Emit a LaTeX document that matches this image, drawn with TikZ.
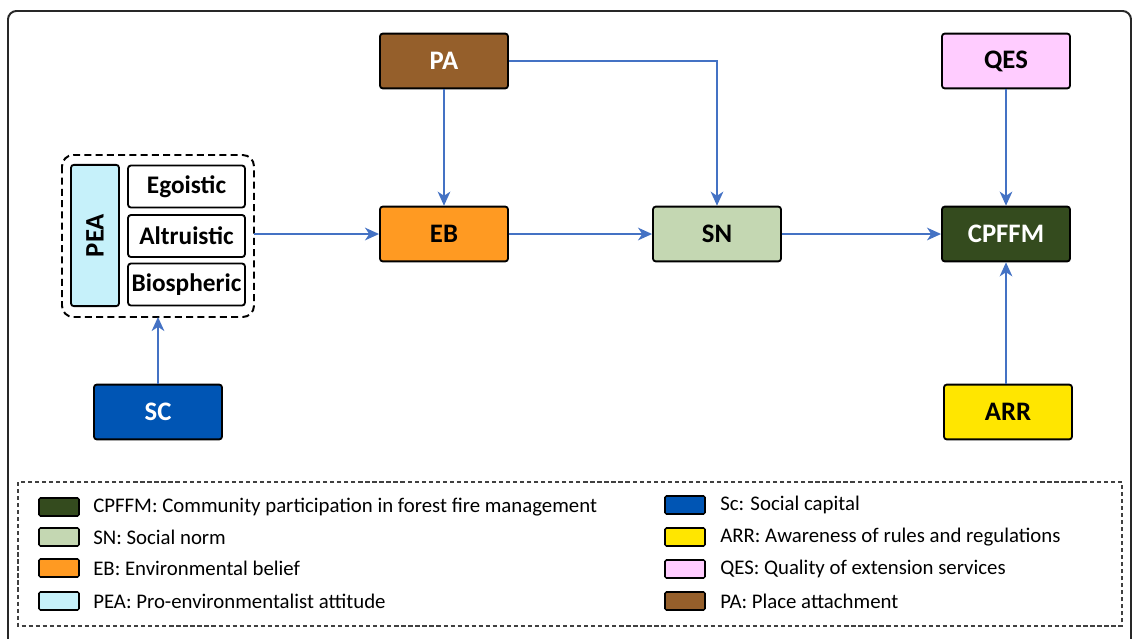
\documentclass[tikz,border=0pt]{standalone}
\usepackage{fontspec}
\setmainfont{Carlito}
\usetikzlibrary{arrows.meta}

\definecolor{paBrown}{RGB}{149,95,43}
\definecolor{ebOrange}{RGB}{255,154,34}
\definecolor{snGreen}{RGB}{196,215,178}
\definecolor{cpDark}{RGB}{52,75,30}
\definecolor{qesPink}{RGB}{255,204,255}
\definecolor{arrYellow}{RGB}{255,230,0}
\definecolor{scBlue}{RGB}{0,85,180}
\definecolor{peaCyan}{RGB}{198,241,250}
\definecolor{linkBlue}{RGB}{68,114,196}
\definecolor{frameGray}{RGB}{40,40,40}

\begin{document}
\begin{tikzpicture}[x=0.025cm,y=-0.025cm,
  >={Stealth[length=10pt,width=9pt,inset=3pt]},
  box/.style={draw=black,line width=1.3pt,rounded corners=2pt,
    minimum width=3.2cm,minimum height=1.37cm,
    font=\bfseries\fontsize{19}{21}\selectfont},
  sub/.style={draw=black,line width=1.3pt,rounded corners=2pt,
    minimum width=2.92cm,minimum height=1.05cm,inner sep=0pt,
    font=\bfseries\fontsize{18}{20}\selectfont},
  link/.style={->,draw=linkBlue,line width=1.3pt},
  swatch/.style={draw=black,line width=1.1pt,rounded corners=1pt,
    minimum width=1cm,minimum height=0.45cm,inner sep=0pt},
  key/.style={anchor=west,inner sep=0pt,font=\fontsize{14.8}{17}\selectfont}]
  \useasboundingbox (0,0) rectangle (1134,639);
  \clip (0,0) rectangle (1134,639);

  % outer frame
  \draw[frameGray,line width=1.4pt,rounded corners=6pt] (8,11) rectangle (1131,700);

  % main boxes
  \node[box,fill=paBrown,text=white] (pa) at (444,61) {PA};
  \node[box,fill=qesPink] (qes) at (1006,61) {QES};
  \node[box,fill=ebOrange] (eb) at (444,234) {EB};
  \node[box,fill=snGreen] (sn) at (717,234) {SN};
  \node[box,fill=cpDark,text=white] (cpffm) at (1006,234) {CPFFM};
  \node[box,fill=scBlue,text=white] (sc) at (158,412) {SC};
  \node[box,fill=arrYellow] (arr) at (1008,412) {ARR};

  % PEA group
  \node[draw=black,line width=1.3pt,rounded corners=2pt,fill=peaCyan,
    minimum width=1.2cm,minimum height=3.53cm,inner sep=0pt] (pea) at (95,235.5) {};
  \node[rotate=90,font=\bfseries\fontsize{19}{21}\selectfont] at (pea) {PEA};
  \node[sub] (ego) at (186.5,186.5) {Egoistic};
  \node[sub] (alt) at (186.5,236) {Altruistic};
  \node[sub] (bio) at (186.5,284.5) {Biospheric};
  \draw[black,line width=1.4pt,dashed,dash pattern=on 5pt off 3pt,rounded corners=8pt]
    (62,155) rectangle (254,317);
  \coordinate (grpE) at (254,234);
  \coordinate (grpS) at (158,317);

  % connectors
  \draw[link] (pa) -- (eb);
  \draw[link] (pa.east) -| (sn.north);
  \draw[link] (grpE) -- (eb.west);
  \draw[link] (eb) -- (sn);
  \draw[link] (sn) -- (cpffm);
  \draw[link] (qes) -- (cpffm);
  \draw[link] (arr.north -| cpffm.south) -- (cpffm.south);
  \draw[link] (sc.north) -- (grpS);

  % legend
  \draw[gray!50!black,line width=0.9pt,dashed,dash pattern=on 3pt off 2pt]
    (18,482) rectangle (1122,626);
  \node[swatch,fill=cpDark] (k1) at (59,507) {};
  \node[swatch,fill=snGreen] (k2) at (59,537) {};
  \node[swatch,fill=ebOrange] (k3) at (59,568) {};
  \node[swatch,fill=peaCyan] (k4) at (59,601) {};
  \node[key] at (93,507) {CPFFM:\ Community participation in forest fire management};
  \node[key] at (93,537) {SN: Social norm};
  \node[key] at (93,568) {EB: Environmental belief};
  \node[key] at (93,601) {PEA: Pro-environmentalist attitude};
  \node[swatch,fill=scBlue] (k5) at (685,505) {};
  \node[swatch,fill=arrYellow] (k6) at (685,537) {};
  \node[swatch,fill=qesPink] (k7) at (685,569) {};
  \node[swatch,fill=paBrown] (k8) at (685,601) {};
  \node[key] at (720,505) {Sc: Social capital};
  \node[key] at (720,537) {ARR: Awareness of rules and regulations};
  \node[key] at (720,569) {QES: Quality of extension services};
  \node[key] at (720,601) {PA: Place attachment};
\end{tikzpicture}
\end{document}
